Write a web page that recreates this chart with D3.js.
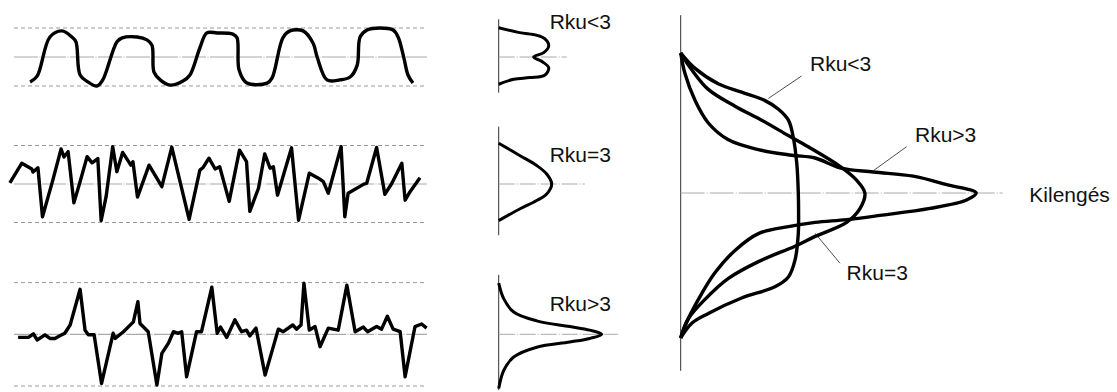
<!DOCTYPE html>
<html>
<head>
<meta charset="utf-8">
<script src="https://cdn.jsdelivr.net/npm/d3@7"></script>
<style>
body { margin: 0; background: #fff; }
text { font-family: "Liberation Sans", Arial, sans-serif; font-size: 21px; fill: #111; }
</style>
</head>
<body>
<div id="chart"></div>
<script>
// profile samples: [position along the profile (%), height relative to the band (-1..1)]
var waveLow = [[3.9,-0.86],[5.6,-0.66],[8.7,0.69],[11.6,0.90],[14.0,0.69],[15.0,0.52],[16.0,-0.62],[17.9,-0.86],[20.1,-1.0],[21.5,-0.79],
  [24.9,0.52],[26.2,0.66],[29.8,0.69],[32.2,0.59],[33.4,0.41],[33.9,-0.52],[35.4,-0.79],[37.8,-0.97],[40.9,-0.83],[42.6,-0.62],
  [45.0,0.31],[46.7,0.83],[49.2,0.83],[53.0,0.79],[54.0,0.66],[54.5,-0.45],[56.4,-0.90],[61.3,-0.90],[62.5,-0.72],[65.1,0.66],
  [66.8,0.90],[70.0,0.90],[72.4,0.48],[73.4,0.0],[75.8,-0.79],[78.9,-0.79],[81.4,-0.69],[83.1,-0.28],[83.8,0.69],[85.5,0.93],
  [88.6,1.0],[91.8,0.93],[93.0,0.69],[94.4,-0.03],[95.4,-0.62],[96.6,-0.90]];

var waveNormal = [[-1.0,0.03],[1.9,0.54],[4.3,0.39],[4.6,0.31],[5.8,0.42],[6.9,-0.85],[9.4,0.10],[11.4,0.91],[12.1,0.70],[13.1,0.84],
  [14.5,-0.49],[16.0,0.06],[17.7,0.71],[18.9,0.55],[20.3,0.66],[21.1,-0.95],[22.3,-0.33],[23.9,0.97],[24.9,0.32],[26.3,0.82],
  [28.3,0.49],[28.8,0.58],[29.9,-0.34],[32.7,0.49],[35.8,-0.07],[38.2,0.96],[42.4,-0.92],[45.0,0.36],[45.8,0.43],[47.2,0.67],
  [48.7,0.39],[49.8,0.45],[52.1,-0.45],[54.6,0.88],[56.3,0.58],[57.1,-0.71],[59.2,-0.11],[60.7,0.78],[62.0,0.41],[62.8,0.45],
  [63.8,-0.29],[67.2,0.94],[68.9,-0.94],[71.5,0.28],[73.7,0.15],[74.9,0.06],[76.1,-0.24],[79.2,0.97],[80.1,-0.85],[80.9,-0.24],
  [84.6,-0.01],[85.4,0.02],[87.8,0.95],[89.8,-0.27],[91.5,0.02],[93.9,0.54],[94.7,-0.42],[95.9,-0.20],[98.3,0.16]];

var waveHigh = [[1.0,-0.06],[3.5,-0.06],[4.7,0.01],[5.6,-0.11],[7.5,-0.01],[8.7,-0.08],[9.9,-0.08],[11.1,-0.03],[12.3,0.02],[13.6,0.18],
  [16.0,0.87],[17.2,0.08],[18.0,-0.01],[19.4,-0.01],[21.2,-0.95],[24.0,0.02],[24.5,-0.08],[26.5,0.05],[28.9,0.24],[30.0,0.63],
  [30.5,0.21],[32.5,0.05],[34.6,-0.98],[35.8,-0.37],[37.4,-0.17],[38.6,0.05],[39.8,0.02],[40.6,0.05],[41.8,-0.82],[44.2,0.05],
  [45.4,0.05],[47.9,0.91],[49.2,0.02],[50.0,0.14],[51.5,-0.06],[53.5,0.28],[55.1,0.05],[56.3,0.08],[57.1,-0.03],[58.6,0.12],
  [60.8,-0.79],[64.0,0.10],[65.2,0.05],[67.5,0.18],[68.4,0.10],[69.5,0.18],[70.2,0.99],[71.5,0.08],[72.9,0.15],[74.1,-0.24],
  [76.1,0.12],[78.5,0.08],[80.6,0.95],[82.6,0.05],[84.6,0.14],[85.6,0.05],[87.8,0.15],[89.0,0.10],[90.4,0.35],[91.8,0.10],
  [93.5,0.05],[94.7,-0.82],[97.1,0.15],[98.7,0.20],[99.9,0.12]];

// amplitude distributions next to each profile: [height, density]
var distLow = [[1.01,0],[0.84,0.21],[0.75,0.38],[0.63,0.46],[0.38,0.50],[0.15,0.45],[0,0.35],[-0.17,0.44],[-0.37,0.50],
  [-0.63,0.46],[-0.71,0.31],[-0.77,0.15],[-0.94,0]];
var distNormal = [[1.06,0],[0.74,0.21],[0.48,0.38],[0.26,0.48],[0,0.53],[-0.26,0.48],[-0.43,0.38],[-0.65,0.21],[-0.95,0]];
var distHigh = [[0.99,0],[0.69,0.05],[0.43,0.15],[0.26,0.38],[0.15,0.71],[0.08,0.91],[0,1.03],[-0.08,0.91],[-0.15,0.71],
  [-0.25,0.38],[-0.44,0.15],[-0.70,0.05],[-1.05,0]];

// combined comparison: [height, density]
var bigLow = [[1.0,0],[0.89,0.048],[0.78,0.125],[0.72,0.203],[0.66,0.281],[0.60,0.325],[0.52,0.359],[0.40,0.375],[0.21,0.387],
  [0,0.392],[-0.16,0.393],[-0.29,0.392],[-0.48,0.381],[-0.60,0.359],[-0.67,0.314],[-0.75,0.203],[-0.86,0.092],[-0.93,0.037],[-1.035,0]];
var bigNormal = [[1.0,0],[0.88,0.037],[0.74,0.092],[0.62,0.181],[0.52,0.27],[0.41,0.359],[0.33,0.425],[0.19,0.531],[0.09,0.587],
  [0,0.614],[-0.11,0.598],[-0.21,0.553],[-0.31,0.448],[-0.38,0.381],[-0.49,0.259],[-0.61,0.159],[-0.76,0.081],[-0.90,0.025],[-1.035,0]];
var bigHigh = [[1.0,0],[0.855,0.014],[0.66,0.048],[0.50,0.092],[0.38,0.159],[0.31,0.259],[0.27,0.37],[0.25,0.448],[0.18,0.531],
  [0.15,0.642],[0.12,0.775],[0.06,0.887],[0,0.985],[-0.05,0.953],[-0.11,0.831],[-0.16,0.664],[-0.19,0.553],[-0.21,0.448],
  [-0.24,0.359],[-0.29,0.259],[-0.41,0.181],[-0.57,0.114],[-0.76,0.059],[-0.95,0.014],[-1.035,0]];

var labels = ["Rku<3", "Rku=3", "Rku>3"];
var axisLabel = "Kilengés";

var width = 1117;
var height = 392;

var svg = d3.select("#chart").append("svg").attr("width", width).attr("height", height);

var x = d3.scaleLinear().domain([0, 100]).range([14, 427]);
var sx = d3.scaleLinear().domain([0, 1]).range([498.7, 598.7]);

var panels = [
  { wave: waveLow, dist: distLow, c: 57, h: 29, axis: [1.30, -1.23], mid: 0.68, lab: [0.51, 0.98], curve: d3.curveCatmullRom },
  { wave: waveNormal, dist: distNormal, c: 184, h: 38.5, axis: [1.49, -1.33], mid: 0.86, lab: [0.51, 0.58], curve: d3.curveLinear },
  { wave: waveHigh, dist: distHigh, c: 334.3, h: 51.7, axis: [1.15, -1.08], mid: 1.19, lab: [0.51, 0.46], curve: d3.curveLinear }
];

panels.forEach(function(p, i) {
  var y = d3.scaleLinear().domain([-1, 1]).range([p.c + p.h, p.c - p.h]);
  var g = svg.append("g");

  // band limits
  g.selectAll(".band").data([-1, 1]).enter().append("line")
    .attr("x1", x(0)).attr("x2", x(100))
    .attr("y1", function(d) { return y(d); }).attr("y2", function(d) { return y(d); })
    .attr("stroke", "#9a9a9a").attr("stroke-width", 1).attr("stroke-dasharray", "4,3");

  // mean line
  g.append("line")
    .attr("x1", x(0)).attr("x2", x(100)).attr("y1", y(0)).attr("y2", y(0))
    .attr("stroke", "#aaa").attr("stroke-width", 1.2).attr("stroke-dasharray", "24,1.5,1,1.5");

  g.append("path")
    .datum(p.wave)
    .attr("d", d3.line().curve(p.curve).x(function(d) { return x(d[0]); }).y(function(d) { return y(d[1]); }))
    .attr("fill", "none").attr("stroke", "#000").attr("stroke-width", 3.4).attr("stroke-linejoin", "round");

  // small distribution
  g.append("line")
    .attr("x1", sx(0)).attr("x2", sx(0)).attr("y1", y(p.axis[0])).attr("y2", y(p.axis[1]))
    .attr("stroke", "#333").attr("stroke-width", 1);
  g.append("line")
    .attr("x1", sx(0)).attr("x2", sx(p.mid)).attr("y1", y(0)).attr("y2", y(0))
    .attr("stroke", "#aaa").attr("stroke-width", 1).attr("stroke-dasharray", "16,2,1,2");
  g.append("path")
    .datum(p.dist)
    .attr("d", d3.line().curve(d3.curveCatmullRom).x(function(d) { return sx(d[1]); }).y(function(d) { return y(d[0]); }))
    .attr("fill", "none").attr("stroke", "#000").attr("stroke-width", 3);
  g.append("text")
    .attr("x", sx(p.lab[0])).attr("y", y(p.lab[1]))
    .text(labels[i]);
});

// big comparison chart
var bx = d3.scaleLinear().domain([0, 1]).range([680.7, 980.7]);
var by = d3.scaleLinear().domain([-1, 1]).range([333, 53]);

var big = svg.append("g");
big.append("line")
  .attr("x1", bx(0)).attr("x2", bx(0)).attr("y1", by(1.27)).attr("y2", by(-1.27))
  .attr("stroke", "#333").attr("stroke-width", 1);
big.append("line")
  .attr("x1", bx(0)).attr("x2", bx(1.073)).attr("y1", by(0)).attr("y2", by(0))
  .attr("stroke", "#aaa").attr("stroke-width", 1).attr("stroke-dasharray", "24,2,1,2");

var bigLine = d3.line().curve(d3.curveCatmullRom)
  .x(function(d) { return bx(d[1]); })
  .y(function(d) { return by(d[0]); });

big.selectAll(".dist").data([bigLow, bigNormal, bigHigh]).enter().append("path")
  .attr("d", bigLine)
  .attr("fill", "none").attr("stroke", "#000").attr("stroke-width", 3.4);

// leader lines and names: [from density, from height, to density, to height, label density, label height]
var leaders = [
  [0.292, 0.675, 0.403, 0.836, 0.431, 0.871],
  [0.448, -0.288, 0.531, -0.502, 0.553, -0.621],
  [0.642, 0.159, 0.753, 0.331, 0.781, 0.366]
];

big.selectAll(".leader").data(leaders).enter().append("line")
  .attr("x1", function(d) { return bx(d[0]); }).attr("y1", function(d) { return by(d[1]); })
  .attr("x2", function(d) { return bx(d[2]); }).attr("y2", function(d) { return by(d[3]); })
  .attr("stroke", "#222").attr("stroke-width", 0.8);

big.selectAll(".name").data(leaders).enter().append("text")
  .attr("x", function(d) { return bx(d[4]); }).attr("y", function(d) { return by(d[5]); })
  .text(function(d, i) { return labels[i]; });

big.append("text")
  .attr("x", bx(1.162)).attr("y", by(-0.062))
  .text(axisLabel);
</script>
</body>
</html>
